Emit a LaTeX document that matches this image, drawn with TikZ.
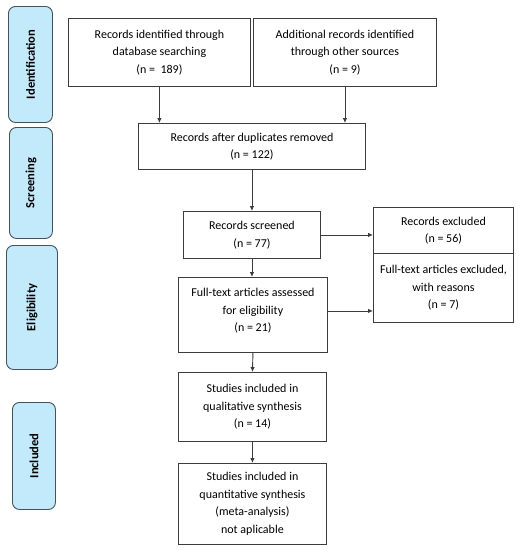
\documentclass[tikz,border=0pt]{standalone}
\usepackage{fontspec}
\setmainfont{Carlito}
\usetikzlibrary{arrows.meta}
\definecolor{linegray}{HTML}{3C3C3C}
\definecolor{phasefill}{HTML}{C2EAFA}
\definecolor{phaseline}{HTML}{46525A}
\tikzset{
  box/.style={draw=linegray, line width=0.9pt, fill=white, anchor=north west, align=center,
    font=\fontsize{12}{17.5}\selectfont, inner sep=0pt},
  boxtext/.style={align=center, font=\fontsize{12}{17.5}\selectfont, inner sep=0pt},
  phase/.style={draw=phaseline, line width=0.9pt, fill=phasefill, rounded corners=7pt,
    anchor=north west, inner sep=0pt},
  phasetext/.style={rotate=90, font=\fontsize{12.5}{14}\selectfont\bfseries},
  arr/.style={draw=linegray, line width=0.9pt, -{Latex[length=5pt,width=4.5pt]}}
}
\begin{document}
\begin{tikzpicture}[x=1pt,y=-1pt]
\useasboundingbox (0,0) rectangle (520,550);
% phase labels
\node[phase, minimum width=44pt, minimum height=116pt] (pid) at (8,6) {};
\node[phasetext] (tid) at (pid.center) {Identification};
\node[phase, minimum width=43pt, minimum height=111pt] (psc) at (9,127) {};
\node[phasetext] (tsc) at (psc.center) {Screening};
\node[phase, minimum width=51pt, minimum height=124pt] (pel) at (6,245) {};
\node[phasetext] (tel) at (pel.center) {Eligibility};
\node[phase, minimum width=43pt, minimum height=107pt] (pin) at (12,402) {};
\node[phasetext] (tin) at (pin.center) {Included};
% boxes
\node[box, minimum width=182pt, minimum height=68pt] (b1) at (68,18)
  {Records identified through\\database searching\\(n =\ \ 189)};
\node[box, minimum width=183pt, minimum height=68pt] (b2) at (253,18)
  {Additional records identified\\through other sources\\(n = 9)};
\node[box, minimum width=227pt, minimum height=46pt] (b3) at (138,123)
  {Records after duplicates removed\\(n = 122)};
\node[box, minimum width=137pt, minimum height=47pt] (b4) at (183,211)
  {Records screened\\(n = 77)};
\node[box, minimum width=140pt, minimum height=46pt] (rex) at (373,207)
  {Records excluded\\(n = 56)};
\node[box, minimum width=140pt, minimum height=69pt] (fex) at (373,253)
  {Full-text articles excluded,\\with reasons\\(n = 7)};
\node[box, minimum width=149pt, minimum height=75pt] (b5) at (178,277) {};
\node[boxtext] (t5) at ([yshift=4pt]b5.center)
  {Full-text articles assessed\\for eligibility\\(n = 21)};
\node[box, minimum width=148pt, minimum height=69pt] (b6) at (178,372)
  {Studies included in\\qualitative synthesis\\(n = 14)};
\node[box, minimum width=148pt, minimum height=81pt] (b7) at (178,463)
  {Studies included in\\quantitative synthesis\\(meta-analysis)\\not aplicable};
% connectors
\draw[arr] (b1.south) -- (b1.south |- b3.north);
\draw[arr] (b2.south) -- (b2.south |- b3.north);
\draw[arr] (b3.south) -- (b3.south |- b4.north);
\draw[arr] (b4.east) -- (b4.east -| rex.west);
\draw[arr] (b4.south) -- (b4.south |- b5.north);
\draw[arr] ([yshift=4pt]b5.east) -- ([yshift=4pt]b5.east -| fex.west);
\draw[arr] (b5.south) -- (b6.north);
\draw[arr] (b6.south) -- (b7.north);
\end{tikzpicture}
\end{document}
